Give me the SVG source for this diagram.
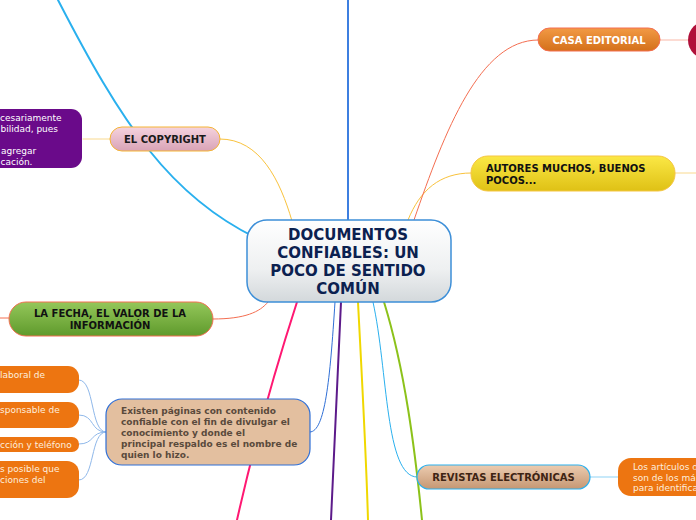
<svg xmlns="http://www.w3.org/2000/svg" width="696" height="520" viewBox="0 0 696 520">
<defs>
<linearGradient id="gCenter" x1="0" y1="0" x2="0" y2="1"><stop offset="0" stop-color="#ffffff"/><stop offset="0.6" stop-color="#eef0f1"/><stop offset="1" stop-color="#d3d8db"/></linearGradient>
<linearGradient id="gPink" x1="0" y1="0" x2="0" y2="1"><stop offset="0" stop-color="#f5d3de"/><stop offset="1" stop-color="#d9a3b6"/></linearGradient>
<linearGradient id="gGreen" x1="0" y1="0" x2="0" y2="1"><stop offset="0" stop-color="#94c75a"/><stop offset="1" stop-color="#5f9a2c"/></linearGradient>
<linearGradient id="gYellow" x1="0" y1="0" x2="0" y2="1"><stop offset="0" stop-color="#fbe845"/><stop offset="1" stop-color="#dfc115"/></linearGradient>
<linearGradient id="gOrange" x1="0" y1="0" x2="0" y2="1"><stop offset="0" stop-color="#f29a45"/><stop offset="1" stop-color="#d4701a"/></linearGradient>
<linearGradient id="gTan" x1="0" y1="0" x2="0" y2="1"><stop offset="0" stop-color="#ecccb0"/><stop offset="1" stop-color="#c59773"/></linearGradient>
</defs>
<style>
.t{font-family:"DejaVu Sans",Verdana,sans-serif}
.b{font-weight:bold}
.c{fill:none;stroke-linecap:round}
.w2{stroke-width:2}
.w1{stroke-width:1}
.lbl{font-size:10px;font-weight:bold;text-anchor:middle}
.small{font-size:9px}
</style>
<g id="connectors">
<path class="c w2" stroke="#3d7fe0" d="M348,0 L348,220"/>
<path class="c w2" stroke="#2ab0ee" d="M58,0 C120,120 170,200 265,242"/>
<path class="c w1" stroke="#f9d98e" d="M83,139 L110,139"/>
<path class="c w1" stroke="#f9c23c" d="M220,139 C260,139 280,180 292,221"/>
<path class="c w1" stroke="#f46e51" d="M0,318 L9,318"/>
<path class="c w1" stroke="#f46e51" d="M213,319 C245,319 260,312 268,302"/>
<path class="c w1" stroke="#2f6fd6" d="M310,432 C325,432 330,380 335,302"/>
<path class="c w1" stroke="#8fb8ea" d="M79,380 C95,380 90,432 106,432"/>
<path class="c w1" stroke="#8fb8ea" d="M79,415 C95,415 90,432 106,432"/>
<path class="c w1" stroke="#8fb8ea" d="M79,444 C95,444 90,432 106,432"/>
<path class="c w1" stroke="#8fb8ea" d="M79,480 C95,480 90,432 106,432"/>
<path class="c w2" stroke="#ff1872" d="M297,302 C275,370 255,440 237,520"/>
<path class="c w2" stroke="#5c1a8a" d="M341,302 C338,380 334,450 331,520"/>
<path class="c w2" stroke="#f0d800" d="M358,302 C362,380 366,450 368,520"/>
<path class="c w1" stroke="#2ab0ee" d="M373,302 C388,370 385,477 417,477"/>
<path class="c w2" stroke="#8cc21a" d="M384,302 C405,370 415,450 422,520"/>
<path class="c w1" stroke="#8fd3f5" d="M590,477 L618,477"/>
<path class="c w1" stroke="#f9c23c" d="M408,220 C420,190 440,173 471,173"/>
<path class="c w1" stroke="#f9d98e" d="M675,173 L696,173"/>
<path class="c w1" stroke="#f46e51" d="M414,220 C445,130 480,40 538,40"/>
<path class="c w1" stroke="#f9b8a8" d="M660,40 L688,40"/>
</g>
<g id="central">
<rect x="247" y="220" width="204" height="82" rx="20" fill="url(#gCenter)" stroke="#3d8fd8" stroke-width="1.5"/>
<text class="t b" font-size="15" fill="#0b2150" text-anchor="middle"><tspan x="348" y="240">DOCUMENTOS</tspan><tspan x="348" y="258">CONFIABLES: UN</tspan><tspan x="348" y="276">POCO DE SENTIDO</tspan><tspan x="348" y="294">COMÚN</tspan></text>
</g>
<g id="copyright">
<rect x="110" y="127" width="110" height="24" rx="12" fill="url(#gPink)" stroke="#f5b535" stroke-width="1"/>
<text class="t lbl" x="165" y="143" fill="#1a1a1a">EL COPYRIGHT</text>
</g>
<g id="copyright-note">
<rect x="-20" y="109" width="102" height="59" rx="11" fill="#6a0a8a"/>
<text class="t small" fill="#ffffff"><tspan x="0" y="120.5">cesariamente</tspan><tspan x="0.5" y="131.5">bilidad, pues</tspan><tspan x="1" y="153.5">agregar</tspan><tspan x="0.5" y="164.5">cación.</tspan></text>
</g>
<g id="fecha">
<rect x="9" y="302" width="204" height="34" rx="17" fill="url(#gGreen)" stroke="#f46e51" stroke-width="1"/>
<text class="t lbl" fill="#111"><tspan x="110" y="317">LA FECHA, EL VALOR DE LA</tspan><tspan x="110" y="329">INFORMACIÓN</tspan></text>
</g>
<g id="existen">
<rect x="106" y="399" width="204" height="66" rx="16" fill="#e3bf9f" stroke="#2f6fd6" stroke-width="1.2"/>
<text class="t b" font-size="9" fill="#5a4a3c"><tspan x="121" y="414">Existen páginas con contenido</tspan><tspan x="121" y="425">confiable con el fin de divulgar el</tspan><tspan x="121" y="436">conocimiento y donde el</tspan><tspan x="121" y="447">principal respaldo es el nombre de</tspan><tspan x="121" y="458">quien lo hizo.</tspan></text>
</g>
<g id="left-1">
<rect x="-20" y="366" width="99" height="27" rx="11" fill="#ed7511"/>
<text class="t small" x="0" y="378" fill="#fdeede">laboral de</text>
</g>
<g id="left-2">
<rect x="-20" y="402" width="99" height="26" rx="11" fill="#ed7511"/>
<text class="t small" x="0" y="413" fill="#fdeede">sponsable de</text>
</g>
<g id="left-3">
<rect x="-20" y="437" width="99" height="15" rx="7" fill="#ed7511"/>
<text class="t small" x="0" y="447.5" fill="#fdeede">cción y teléfono</text>
</g>
<g id="left-4">
<rect x="-20" y="461" width="99" height="37" rx="12" fill="#ed7511"/>
<text class="t small" fill="#fdeede"><tspan x="0" y="472">s posible que</tspan><tspan x="0" y="483">ciones del</tspan></text>
</g>
<g id="revistas">
<rect x="417" y="465" width="173" height="24" rx="12" fill="url(#gTan)" stroke="#2ab0ee" stroke-width="1.2"/>
<text class="t lbl" x="503.5" y="481" fill="#3e2414">REVISTAS ELECTRÓNICAS</text>
</g>
<g id="revistas-note">
<rect x="618" y="458" width="100" height="38" rx="13" fill="#ed7511"/>
<text class="t small" fill="#fdeede"><tspan x="633" y="470">Los artículos d</tspan><tspan x="633" y="480.5">son de los má</tspan><tspan x="633" y="491">para identifica</tspan></text>
</g>
<g id="autores">
<rect x="471" y="156" width="204" height="35" rx="17" fill="url(#gYellow)" stroke="#f5c542" stroke-width="1"/>
<text class="t b" font-size="10" fill="#111"><tspan x="486" y="172">AUTORES MUCHOS, BUENOS</tspan><tspan x="486" y="184">POCOS...</tspan></text>
</g>
<g id="casa">
<rect x="538" y="28" width="122" height="23" rx="11.5" fill="url(#gOrange)" stroke="#f46e51" stroke-width="1"/>
<text class="t lbl" x="599" y="44" fill="#ffffff">CASA EDITORIAL</text>
</g>
<g id="casa-note">
<rect x="688" y="21" width="60" height="38" rx="19" fill="#b0103a"/>
</g>
</svg>
